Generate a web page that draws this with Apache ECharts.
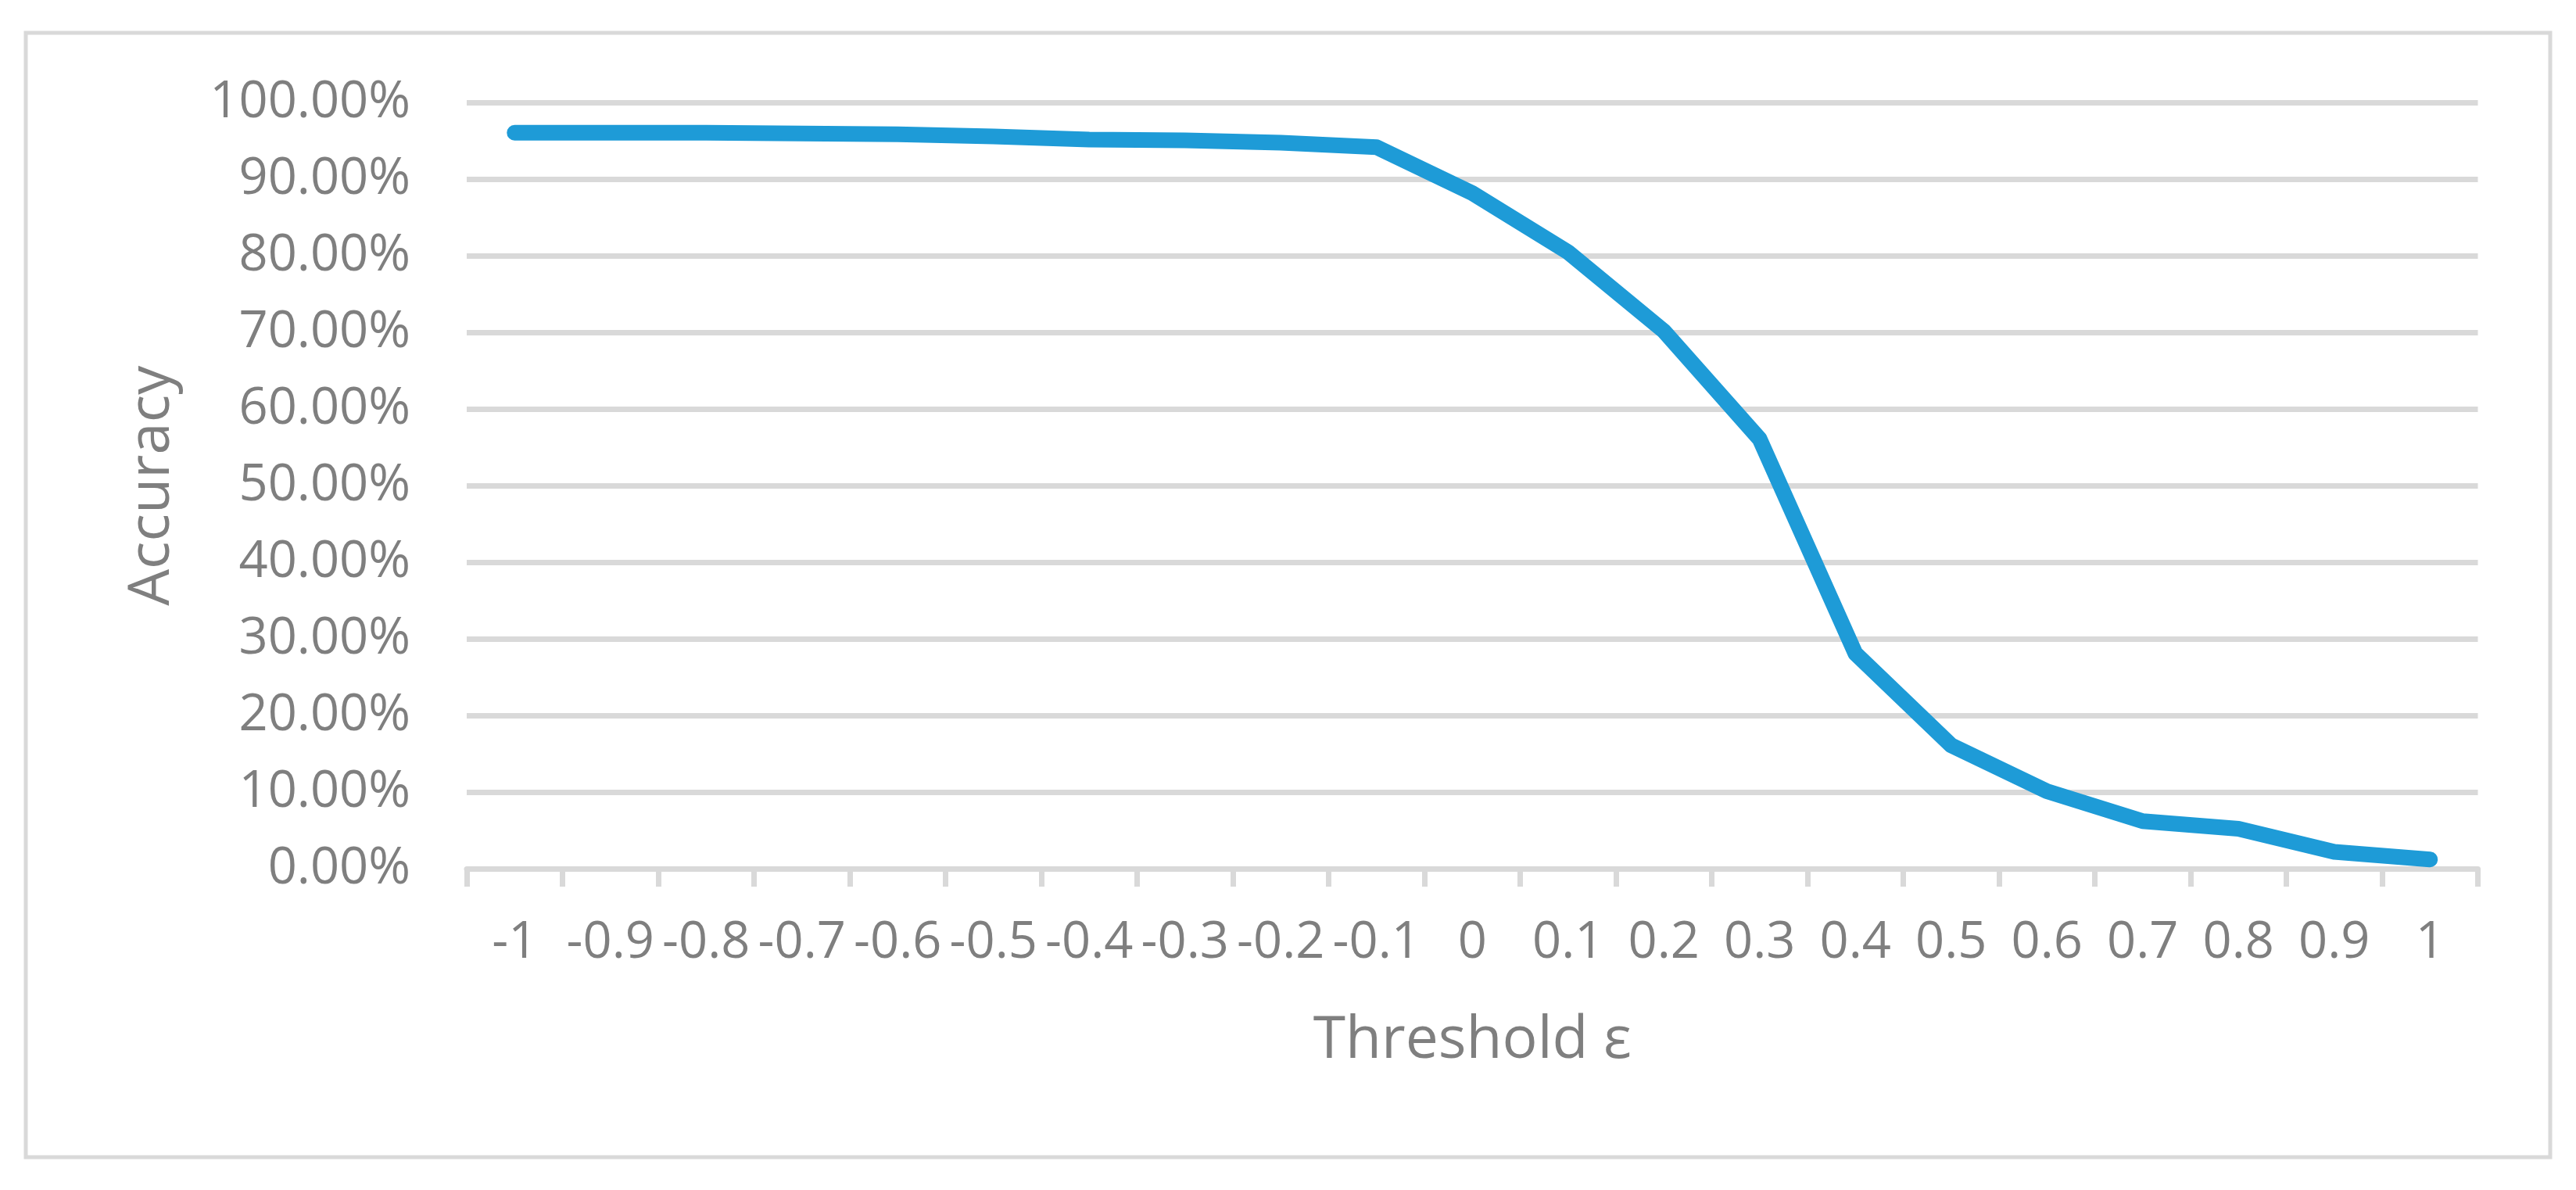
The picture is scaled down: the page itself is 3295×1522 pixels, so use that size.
<!DOCTYPE html>
<html>
<head>
<meta charset="utf-8">
<script src="https://cdn.jsdelivr.net/npm/echarts@6/dist/echarts.min.js"></script>
<style>
html,body{margin:0;padding:0;background:#fff;}
#chart{width:3295px;height:1522px;}
</style>
</head>
<body>
<div id="chart"></div>
<script>
const categories = ['-1','-0.9','-0.8','-0.7','-0.6','-0.5','-0.4','-0.3','-0.2','-0.1','0','0.1','0.2','0.3','0.4','0.5','0.6','0.7','0.8','0.9','1'];
const accuracy = [96.1, 96.1, 96.1, 96.0, 95.9, 95.6, 95.2, 95.1, 94.8, 94.2, 88.2, 80.5, 70.2, 56.1, 28.1, 16.1, 10.1, 6.2, 5.2, 2.2, 1.2];
const xName = 'Threshold ε';
const yName = 'Accuracy';

const FONT = 'Open Sans';
const GRAY = '#7f7f7f';
const LINEGRAY = '#d9d9d9';

const chart = echarts.init(document.getElementById('chart'), null, {renderer: 'canvas'});
chart.setOption({
  backgroundColor: '#ffffff',
  animation: false,
  graphic: [{
    type: 'rect',
    shape: {x: 33, y: 42, width: 3229, height: 1438},
    style: {fill: 'none', stroke: LINEGRAY, lineWidth: 5},
    silent: true
  }],
  grid: {left: 597, right: 125.5, top: 131.5, bottom: 411, containLabel: false},
  xAxis: {
    type: 'category',
    data: categories,
    boundaryGap: true,
    name: xName,
    nameLocation: 'middle',
    nameGap: 183,
    nameTextStyle: {color: GRAY, fontFamily: FONT, fontSize: 75},
    axisLine: {show: true, lineStyle: {color: LINEGRAY, width: 7}},
    axisTick: {show: true, alignWithLabel: false, length: 23, lineStyle: {color: LINEGRAY, width: 7}},
    axisLabel: {interval: 0, color: GRAY, fontFamily: FONT, fontSize: 65, margin: 63},
    splitLine: {show: false}
  },
  yAxis: {
    type: 'value',
    min: 0,
    max: 100,
    interval: 10,
    name: yName,
    nameLocation: 'middle',
    nameGap: 365,
    nameRotate: 90,
    nameTextStyle: {color: GRAY, fontFamily: FONT, fontSize: 74},
    axisLine: {show: false},
    axisTick: {show: false},
    axisLabel: {color: GRAY, fontFamily: FONT, fontSize: 65, margin: 72,
      formatter: v => v.toFixed(2) + '%'},
    splitLine: {show: true, lineStyle: {color: LINEGRAY, width: 7}}
  },
  series: [{
    type: 'line',
    data: accuracy,
    showSymbol: false,
    symbol: 'none',
    smooth: false,
    lineStyle: {color: '#1e9bd7', width: 20, cap: 'round', join: 'round'},
    z: 5
  }]
});
</script>
</body>
</html>
